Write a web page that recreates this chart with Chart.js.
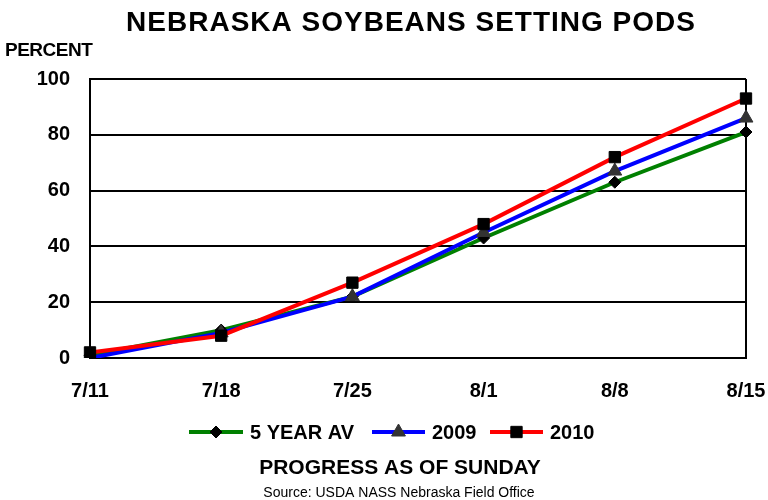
<!DOCTYPE html>
<html>
<head>
<meta charset="utf-8">
<script src="https://cdn.jsdelivr.net/npm/chart.js@4/dist/chart.umd.min.js"></script>
<style>
  html, body { margin: 0; padding: 0; background: #fff; }
  #wrap { width: 768px; height: 500px; position: relative; }
</style>
</head>
<body>
<div id="wrap"><canvas id="c" width="768" height="500"></canvas></div>
<script>
const categories = ["7/11", "7/18", "7/25", "8/1", "8/8", "8/15"];
const fiveYearAv = [1, 10, 22, 43, 63, 81];
const y2009 = [0, 9, 22, 45, 67, 86];
const y2010 = [2, 8, 27, 48, 72, 93];
const seriesNames = ["5 YEAR AV", "2009", "2010"];
const yTicks = [0, 20, 40, 60, 80, 100];

const FONT = '"Liberation Sans", Arial, sans-serif';

const textPlugin = {
  id: 'texts',
  afterDraw(chart) {
    const ctx = chart.ctx;
    ctx.save();
    ctx.fillStyle = '#000';
    ctx.textBaseline = 'middle';
    // Title
    ctx.font = 'bold 28px ' + FONT;
    ctx.textAlign = 'center';
    ctx.letterSpacing = '1px';
    ctx.fillText('NEBRASKA SOYBEANS SETTING PODS', 411, 23);
    ctx.letterSpacing = '0px';
    // Percent
    ctx.font = 'bold 19px ' + FONT;
    ctx.textAlign = 'left';
    ctx.letterSpacing = '-0.5px';
    ctx.fillText('PERCENT', 5, 51);
    ctx.letterSpacing = '0px';
    // Axis caption
    ctx.font = 'bold 21px ' + FONT;
    ctx.textAlign = 'center';
    ctx.fillText('PROGRESS AS OF SUNDAY', 400, 468);
    // Source
    ctx.font = '14px ' + FONT;
    ctx.fillText('Source: USDA NASS Nebraska Field Office', 399, 493);

    // Legend
    const ds = chart.data.datasets;
    const items = [
      {x0: 189, x1: 243, tx: 250},
      {x0: 372, x1: 425, tx: 432},
      {x0: 490, x1: 543, tx: 550}
    ];
    const ly = 432;
    ctx.font = 'bold 20px ' + FONT;
    ctx.textAlign = 'left';
    items.forEach((it, i) => {
      const d = ds[i];
      ctx.strokeStyle = d.borderColor;
      ctx.lineWidth = 4;
      ctx.beginPath();
      ctx.moveTo(it.x0, ly);
      ctx.lineTo(it.x1, ly);
      ctx.stroke();
      ctx.fillStyle = d.pointBackgroundColor;
      ctx.strokeStyle = d.pointBorderColor;
      ctx.lineWidth = 1;
      Chart.helpers.drawPoint(ctx, {
        pointStyle: d.pointStyle,
        radius: d.pointRadius,
        rotation: 0,
        borderWidth: 1
      }, (it.x0 + it.x1) / 2, ly);
      ctx.fillStyle = '#000';
      ctx.fillText(d.label, it.tx, ly + 1);
    });
    ctx.restore();
  }
};

new Chart(document.getElementById('c'), {
  type: 'line',
  data: {
    labels: categories,
    datasets: [
      {
        label: seriesNames[0], data: fiveYearAv,
        borderColor: '#008000', borderWidth: 4,
        pointStyle: 'rectRot', pointRadius: 6,
        pointBackgroundColor: '#000', pointBorderColor: '#000', pointBorderWidth: 1,
        tension: 0, order: 3
      },
      {
        label: seriesNames[1], data: y2009,
        borderColor: '#0000ff', borderWidth: 4,
        pointStyle: 'triangle', pointRadius: 8,
        pointBackgroundColor: '#333333', pointBorderColor: '#333333', pointBorderWidth: 1,
        tension: 0, order: 2
      },
      {
        label: seriesNames[2], data: y2010,
        borderColor: '#ff0000', borderWidth: 4,
        pointStyle: 'rect', pointRadius: 8,
        pointBackgroundColor: '#000', pointBorderColor: '#000', pointBorderWidth: 1,
        tension: 0, order: 1
      }
    ]
  },
  options: {
    responsive: false,
    animation: false,
    devicePixelRatio: 1,
    layout: { padding: { left: 0, top: 79, right: 22, bottom: 100 } },
    plugins: {
      legend: { display: false },
      title: { display: false },
      tooltip: { enabled: false }
    },
    scales: {
      x: {
        offset: false,
        grid: {
          drawTicks: false,
          lineWidth: 2,
          color: (c) => c.index === categories.length - 1 ? '#000' : 'rgba(0,0,0,0)'
        },
        border: { display: true, color: '#000', width: 2 },
        ticks: {
          padding: 21, color: '#000',
          font: { family: FONT, size: 20, weight: 'bold' },
          maxRotation: 0, autoSkip: false
        },
        afterFit(scale) { scale.height = 42; scale.paddingLeft = 0; scale.paddingRight = 0; }
      },
      y: {
        min: 0, max: 100,
        afterBuildTicks(scale) { scale.ticks = yTicks.map(v => ({ value: v })); },
        grid: { drawTicks: false, lineWidth: 2, color: '#000' },
        border: { display: true, color: '#000', width: 2 },
        ticks: {
          padding: 20, color: '#000',
          font: { family: FONT, size: 20, weight: 'bold' }
        },
        afterFit(scale) { scale.width = 90; scale.paddingTop = 0; scale.paddingBottom = 0; }
      }
    }
  },
  plugins: [textPlugin]
});
</script>
</body>
</html>
